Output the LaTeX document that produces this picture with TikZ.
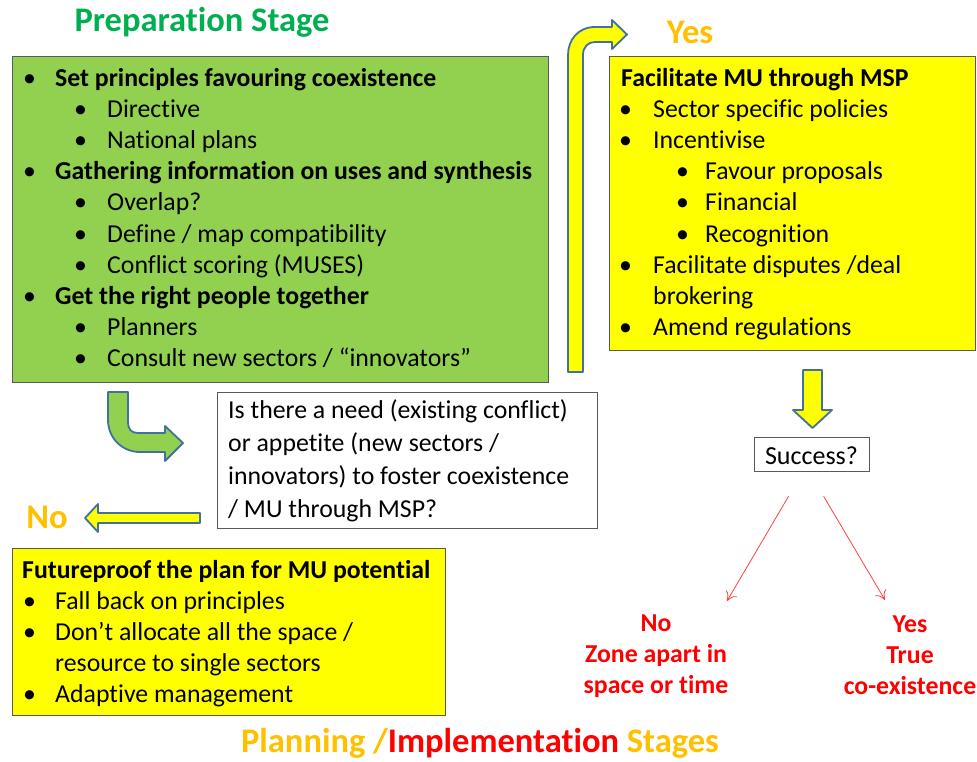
\documentclass[tikz,border=0pt]{standalone}
\usepackage{fontspec}
\setmainfont{Carlito}[Ligatures=NoCommon]
\usetikzlibrary{arrows.meta}

\definecolor{leaf}{HTML}{92D050}
\definecolor{titlegreen}{HTML}{00B050}
\definecolor{amber}{HTML}{FFC000}
\definecolor{boxline}{HTML}{595959}
\definecolor{arrowline}{HTML}{41719C}
\definecolor{lemon}{HTML}{FFFF00}
\definecolor{alert}{HTML}{FF0000}
\definecolor{softred}{HTML}{FF4040}

% bullet line: indent, bullet slot width, text
\newcommand\bitem[3]{\hspace*{#1}\makebox[#2][l]{\textbullet}#3}
\newcommand\listsize{\fontsize{25.8}{31.2}\selectfont}

\tikzset{
  panel/.style={draw=boxline, line width=1.2pt, anchor=north west, inner sep=0pt},
  listtext/.style={anchor=base west, inner sep=0pt},
  blockarrow/.style={draw=arrowline, line width=1.8pt, line join=round},
  stagetitle/.style={font=\fontsize{34.5}{40}\selectfont\bfseries, inner sep=0pt},
  verdict/.style={text=alert, align=center, inner sep=0pt,
                  font=\fontsize{25.8}{31}\selectfont\bfseries},
  outcome/.style={draw=softred, line width=0.8pt, -{To[length=9pt,width=13pt]}}
}

\begin{document}
\begin{tikzpicture}[x=1pt, y=-1pt]
\useasboundingbox (0,0) rectangle (977,761);

% ---------- titles ----------
\node[stagetitle, text=titlegreen] (prepTitle) at (202,22) {Preparation Stage};
\node[stagetitle, text=amber] (yesTitle) at (690,32) {Yes};
\node[stagetitle, text=amber] (noTitle) at (47,517) {No};
\node[stagetitle] (planTitle) at (480,743)
  {\textcolor{amber}{Planning /}\textcolor{alert}{Implementation} \textcolor{amber}{Stages}};

% ---------- preparation box ----------
\node[panel, fill=leaf, minimum width=536pt, minimum height=326pt] (prepBox) at (12,56) {};
\node[listtext] (prepText) at (23,86) {\parbox[t]{520pt}{\listsize
  \bitem{0pt}{32pt}{\textbf{Set principles favouring coexistence}}\\
  \bitem{51pt}{33pt}{Directive}\\
  \bitem{51pt}{33pt}{National plans}\\
  \bitem{0pt}{32pt}{\textbf{Gathering information on uses and synthesis}}\\
  \bitem{51pt}{33pt}{Overlap?}\\
  \bitem{51pt}{33pt}{Define / map compatibility}\\
  \bitem{51pt}{33pt}{Conflict scoring (MUSES)}\\
  \bitem{0pt}{32pt}{\textbf{Get the right people together}}\\
  \bitem{51pt}{33pt}{Planners}\\
  \bitem{51pt}{33pt}{Consult new sectors / “innovators”}}};

% ---------- MSP box ----------
\node[panel, fill=lemon, minimum width=366pt, minimum height=294pt] (mspBox) at (609,56) {};
\node[listtext] (mspText) at (619,86) {\parbox[t]{355pt}{\listsize
  \hspace*{2pt}\textbf{Facilitate MU through MSP}\\
  \bitem{0pt}{34pt}{Sector specific policies}\\
  \bitem{0pt}{34pt}{Incentivise}\\
  \bitem{57pt}{29pt}{Favour proposals}\\
  \bitem{57pt}{29pt}{Financial}\\
  \bitem{57pt}{29pt}{Recognition}\\
  \bitem{0pt}{34pt}{Facilitate disputes /deal}\\
  \hspace*{34pt}brokering\\
  \bitem{0pt}{34pt}{Amend regulations}}};

% ---------- futureproof box ----------
\node[panel, fill=lemon, minimum width=433pt, minimum height=167pt] (futureBox) at (12,548) {};
\node[listtext] (futureText) at (22,578) {\parbox[t]{420pt}{\listsize
  \textbf{Futureproof the plan for MU potential}\\
  \bitem{1pt}{32pt}{Fall back on principles}\\
  \bitem{1pt}{32pt}{Don’t allocate all the space /}\\
  \hspace*{33pt}resource to single sectors\\
  \bitem{1pt}{32pt}{Adaptive management}}};

% ---------- question box ----------
\node[panel, fill=white, minimum width=380pt, minimum height=136pt] (questionBox) at (217,392) {};
\node[listtext] (questionText) at (228,418) {\parbox[t]{365pt}{\fontsize{25.8}{33}\selectfont
  Is there a need (existing conflict)\\
  or appetite (new sectors /\\
  innovators) to foster coexistence\\
  / MU through MSP?}};

% ---------- success box ----------
\node[panel, fill=white, minimum width=115pt, minimum height=34pt] (successBox) at (754,437) {};
\node[inner sep=0pt, font=\fontsize{26}{30}\selectfont] (successText) at (811.5,456) {Success?};

% ---------- outcomes ----------
\node[verdict] (noOutcome) at (656,656) {No\\Zone apart in\\space or time};
\node[verdict] (yesOutcome) at (910,655) {Yes\\True\\co-existence};
\coordinate (noTip) at (727,601);
\coordinate (yesTip) at (885,600);
\draw[outcome] ([xshift=-23.5pt, yshift=-24pt]successBox.south) -- (noTip);
\draw[outcome] ([xshift=11.5pt, yshift=-24pt]successBox.south) -- (yesTip);

% ---------- block arrows ----------
% bent arrow from the preparation box to the question
\draw[blockarrow, fill=leaf]
  (108,392) -- (128,392) -- (128,422)
  .. controls (128,429) and (131,433) .. (138,433)
  -- (165,433) -- (165,426) -- (183,443) -- (165,461) -- (165,452) -- (140,452)
  .. controls (122,452) and (108,438) .. (108,420) -- cycle;

% tall bent arrow up to the "Yes" branch
\draw[blockarrow, fill=lemon]
  (568,372) -- (568,55)
  .. controls (568,40) and (578,27) .. (595,27)
  -- (612,27) -- (612,20) -- (627,34.5) -- (612,49) -- (612,42) -- (595,42)
  .. controls (588,42) and (583,47) .. (583,55) -- (583,372) -- cycle;

% down arrow to the success check
\draw[blockarrow, fill=lemon]
  (803,370) -- (822,370) -- (822,410) -- (832,410) -- (812.5,428)
  -- (793,410) -- (803,410) -- cycle;

% left arrow to the "No" branch
\draw[blockarrow, fill=lemon]
  (200,513) -- (98,513) -- (98,504) -- (85,518) -- (98,532) -- (98,523)
  -- (200,523) -- cycle;

\end{tikzpicture}
\end{document}
